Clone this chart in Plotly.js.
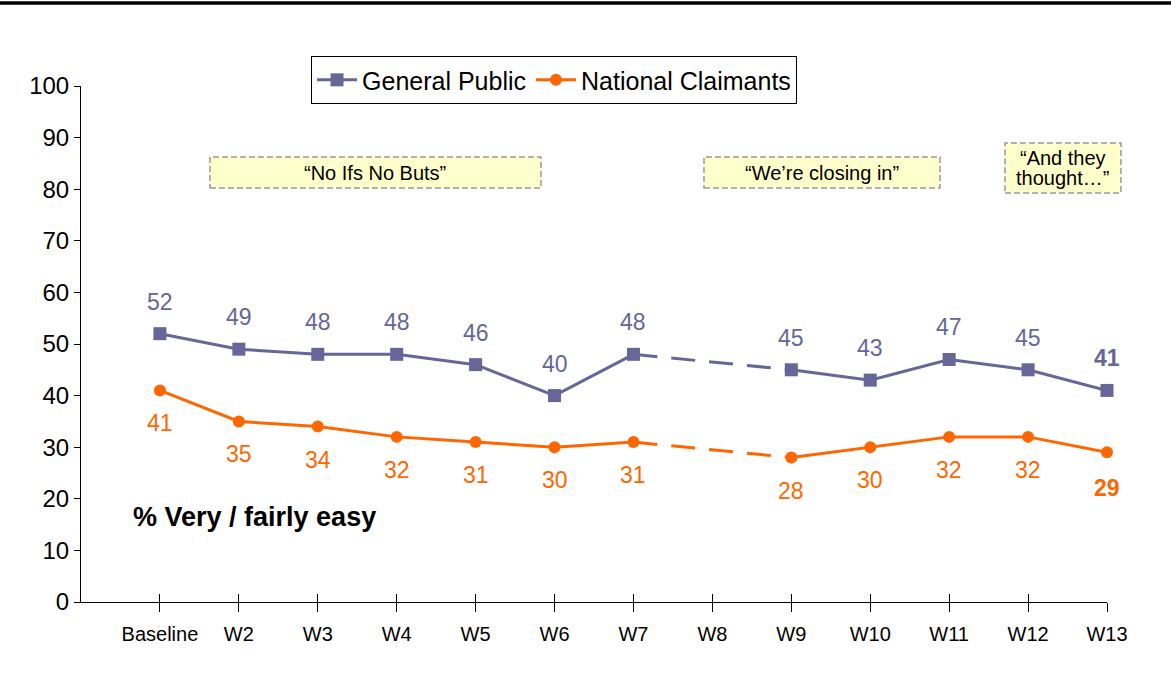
<!DOCTYPE html>
<html>
<head>
<meta charset="utf-8">
<script src="https://cdn.plot.ly/plotly-3.0.1.min.js"></script>
<style>
html,body{margin:0;padding:0;background:#fff;}
#chart{width:1171px;height:700px;}
</style>
</head>
<body>
<div id="chart"></div>
<script>
const categories = ["Baseline","W2","W3","W4","W5","W6","W7","W8","W9","W10","W11","W12","W13"];
const generalPublic = [52,49,48,48,46,40,48,null,45,43,47,45,41];
const nationalClaimants = [41,35,34,32,31,30,31,null,28,30,32,32,29];
const yTicks = [0,10,20,30,40,50,60,70,80,90,100];
const campaigns = ["\u201CNo Ifs No Buts\u201D","\u201CWe\u2019re closing in\u201D","\u201CAnd they<br>thought\u2026\u201D"];

const purple = "#666699";
const orange = "#FF6600";
const FONT = "Arial, 'Liberation Sans', sans-serif";

function gapSeries(arr){
  return arr.map((v,i)=>{
    if(v===null) return null;
    const prevNull = i>0 && arr[i-1]===null;
    const nextNull = i<arr.length-1 && arr[i+1]===null;
    return (prevNull||nextNull) ? v : null;
  });
}

const traces = [
  {x:categories, y:gapSeries(generalPublic), mode:"lines", connectgaps:true, showlegend:false,
   line:{color:purple,width:3,dash:"24px,14px"}, hoverinfo:"skip", cliponaxis:false},
  {x:categories, y:gapSeries(nationalClaimants), mode:"lines", connectgaps:true, showlegend:false,
   line:{color:orange,width:3,dash:"24px,14px"}, hoverinfo:"skip", cliponaxis:false},
  {x:categories, y:generalPublic, name:"General Public", mode:"lines+markers", connectgaps:false,
   line:{color:purple,width:3}, marker:{symbol:"square",size:13,color:purple}, cliponaxis:false},
  {x:categories, y:nationalClaimants, name:"National Claimants", mode:"lines+markers", connectgaps:false,
   line:{color:orange,width:3}, marker:{symbol:"circle",size:12,color:orange}, cliponaxis:false},
  {x:categories, y:categories.map(()=>null), xaxis:"x2", yaxis:"y", mode:"lines", showlegend:false, hoverinfo:"skip"}
];

const annotations = [];
const last = categories.length-1;
categories.forEach((c,i)=>{
  if(generalPublic[i]!==null){
    annotations.push({x:c,y:generalPublic[i],xref:"x",yref:"y",yshift:32,showarrow:false,
      text: i===last ? "<b>"+generalPublic[i]+"</b>" : String(generalPublic[i]),
      font:{family:FONT,size:23,color:purple}});
  }
  if(nationalClaimants[i]!==null){
    annotations.push({x:c,y:nationalClaimants[i],xref:"x",yref:"y",yshift: i===last ? -36 : -33,showarrow:false,
      text: i===last ? "<b>"+nationalClaimants[i]+"</b>" : String(nationalClaimants[i]),
      font:{family:FONT,size:23,color:orange}});
  }
});

const boxes = [
  {x0:0.1257,x1:0.4483,y0:0.8023,y1:0.8624},
  {x0:0.6072,x1:0.8372,y0:0.8023,y1:0.8624},
  {x0:0.9006,x1:1.0136,y0:0.7926,y1:0.8895}
];
const shapes = [];
boxes.forEach((b,i)=>{
  shapes.push({type:"rect",xref:"paper",yref:"paper",x0:b.x0,x1:b.x1,y0:b.y0,y1:b.y1,
    fillcolor:"#FFFFCC",line:{color:"#999999",width:1.5,dash:"6px,3px"},layer:"below"});
  const lines = campaigns[i].split("<br>");
  const lh = 20/516;
  const cy = (b.y0+b.y1)/2;
  lines.forEach((ln,j)=>{
    annotations.push({xref:"paper",yref:"paper",x:(b.x0+b.x1)/2,
      y: cy + ((lines.length-1)/2 - j)*lh,
      xanchor:"center",yanchor:"middle",showarrow:false,text:ln,
      font:{family:FONT,size:20,color:"#000"}});
  });
});

annotations.push({xref:"paper",yref:"paper",x:0.0487,y:0.1647,xanchor:"left",yanchor:"middle",
  showarrow:false,text:"<b>% Very / fairly easy</b>",font:{family:FONT,size:27,color:"#000"}});

shapes.push({type:"line",xref:"paper",yref:"paper",x0:-81/1026,x1:1090/1026,y0:(602-3)/516,y1:(602-3)/516,
  line:{color:"#000",width:3.5}});

const layout = {
  width:1171,height:700,
  margin:{l:81,r:64,t:86,b:98},
  paper_bgcolor:"#fff",plot_bgcolor:"#fff",
  font:{family:FONT,color:"#000"},
  showlegend:true,
  legend:{orientation:"h",x:0.2242,y:1.058,xanchor:"left",yanchor:"top",
    bordercolor:"#000",borderwidth:1,bgcolor:"#fff",
    font:{family:FONT,size:25,color:"#000"},itemwidth:40,traceorder:"normal"},
  xaxis:{type:"category",range:[-1,last],showgrid:false,zeroline:false,
    showline:true,linecolor:"#000",linewidth:1,ticks:"outside",ticklen:9,tickcolor:"#000",
    tickfont:{family:FONT,size:20,color:"#000"},ticklabelstandoff:5,fixedrange:true},
  xaxis2:{type:"category",overlaying:"x",anchor:"y",side:"bottom",range:[-1,last],
    categoryarray:categories,categoryorder:"array",showgrid:false,zeroline:false,showline:false,
    ticks:"inside",ticklen:8,tickcolor:"#000",showticklabels:false,fixedrange:true},
  yaxis:{range:[0,100],tickvals:yTicks,showgrid:false,zeroline:false,
    showline:true,linecolor:"#000",linewidth:1,ticks:"outside",ticklen:6,tickcolor:"#000",
    tickfont:{family:FONT,size:24,color:"#000"},fixedrange:true},
  annotations:annotations,
  shapes:shapes
};

Plotly.newPlot("chart",traces,layout,{displayModeBar:false,staticPlot:true});
</script>
</body>
</html>
